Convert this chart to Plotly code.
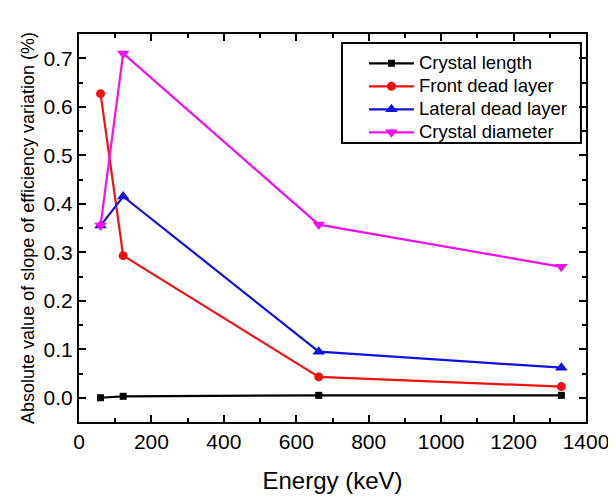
import plotly.graph_objects as go

energy = [59.5, 122, 662, 1332]
crystal_length = [0.0, 0.003, 0.005, 0.005]
front_dead_layer = [0.627, 0.293, 0.043, 0.023]
lateral_dead_layer = [0.355, 0.415, 0.095, 0.062]
crystal_diameter = [0.355, 0.710, 0.357, 0.270]

series = [
    ("Crystal length", crystal_length, "black", "square", 7),
    ("Front dead layer", front_dead_layer, "#ee1111", "circle", 9),
    ("Lateral dead layer", lateral_dead_layer, "#1010e0", "triangle-up", 11),
    ("Crystal diameter", crystal_diameter, "#ee11ee", "triangle-down", 11),
]

FONT = "Liberation Sans, Arial"

fig = go.Figure()
for name, vals, color, sym, size in series:
    fig.add_trace(go.Scatter(
        x=energy, y=vals, mode="lines+markers",
        name='<span style="font-size:18.5px">' + name + '</span>',
        line=dict(color=color, width=2.2),
        marker=dict(symbol=sym, size=size, color=color),
    ))

axis_common = dict(
    showline=True, linecolor="black", linewidth=2, mirror="allticks",
    ticks="inside", ticklen=7, tickwidth=1.5, tickcolor="black",
    showgrid=False, zeroline=False,
    tickfont=dict(family=FONT, size=21, color="black"),
)

fig.update_xaxes(
    range=[0, 1400], dtick=200, tick0=0, automargin=False,
    minor=dict(dtick=100, ticks="inside", ticklen=4, tickwidth=1.5, tickcolor="black"),
    title=dict(text="Energy (keV)", font=dict(family=FONT, size=24, color="black"), standoff=20),
    **axis_common,
)
fig.update_yaxes(
    range=[-0.05, 0.75], dtick=0.1, tick0=0, tickformat=".1f", automargin=False,
    minor=dict(dtick=0.05, ticks="inside", ticklen=4, tickwidth=1.5, tickcolor="black"),
    title=dict(text="Absolute value of slope of efficiency variation (%)",
               font=dict(family=FONT, size=18, color="black"), standoff=4),
    **axis_common,
)

# legend frame (drawn as a paper-referenced rectangle)
fig.add_shape(type="rect", xref="paper", yref="paper",
              x0=0.5187, x1=0.990, y0=0.719, y1=0.977,
              line=dict(color="black", width=2), fillcolor="white", layer="below")

fig.update_layout(
    width=608, height=491,
    margin=dict(l=71, r=30, t=26, b=77),
    plot_bgcolor="white", paper_bgcolor="white",
    showlegend=True,
    legend=dict(
        x=0.562, y=0.967, xanchor="left", yanchor="top",
        borderwidth=0, bgcolor="rgba(0,0,0,0)",
        font=dict(family=FONT, size=15.4, color="black"),
        itemwidth=45, tracegroupgap=0,
    ),
)

fig.write_html("out.html")
